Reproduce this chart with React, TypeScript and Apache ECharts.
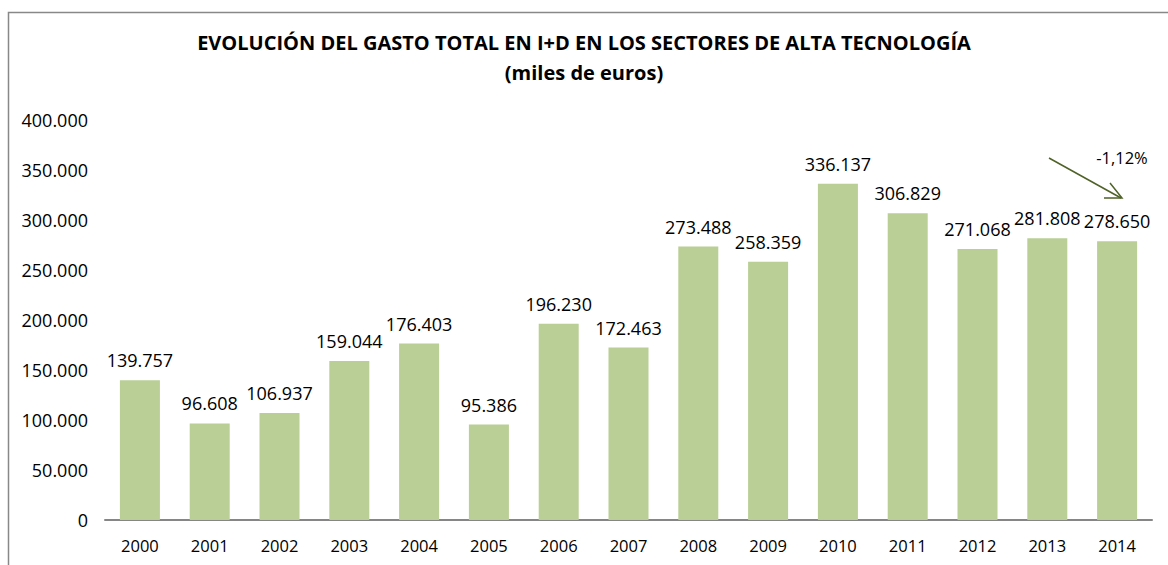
import React, { useEffect, useRef } from "react";
import * as echarts from "echarts";

const years = ["2000","2001","2002","2003","2004","2005","2006","2007","2008","2009","2010","2011","2012","2013","2014"];
const gasto = [139757, 96608, 106937, 159044, 176403, 95386, 196230, 172463, 273488, 258359, 336137, 306829, 271068, 281808, 278650];
const titleLines = ["EVOLUCIÓN DEL GASTO TOTAL EN I+D EN LOS SECTORES DE ALTA TECNOLOGÍA", "(miles de euros)"];
const changeLabel = "-1,12%";

const fmt = (v: number) => String(Math.round(v)).replace(/\B(?=(\d{3})+(?!\d))/g, ".");
const FONT = "'Open Sans', 'Noto Sans', sans-serif";

export default function App() {
  const ref = useRef<HTMLDivElement>(null);
  useEffect(() => {
    if (!ref.current) return;
    const chart = echarts.init(ref.current, null, { renderer: "svg" });
    chart.setOption({
      animation: false,
      backgroundColor: "#ffffff",
      title: {
        text: titleLines.join("\n"),
        left: "center",
        top: 22,
        textStyle: { fontFamily: FONT, fontWeight: "bold", fontSize: 20, color: "#000", lineHeight: 30 },
      },
      grid: { left: 105, right: 16, top: 120, bottom: 45 },
      xAxis: {
        type: "category",
        data: years,
        axisLine: { lineStyle: { color: "#868686", width: 2 } },
        axisTick: { show: false },
        axisLabel: { fontFamily: FONT, fontSize: 16.5, color: "#000", margin: 17 },
      },
      yAxis: {
        type: "value",
        min: 0,
        max: 400000,
        interval: 50000,
        splitLine: { show: false },
        axisLine: { show: false },
        axisTick: { show: false },
        axisLabel: { fontFamily: FONT, fontSize: 18, color: "#000", margin: 17, formatter: (v: number) => fmt(v) },
      },
      series: [
        {
          type: "bar",
          data: gasto,
          barWidth: 40,
          itemStyle: { color: "#b9cf95" },
          label: {
            show: true,
            position: "top",
            distance: 11,
            fontFamily: FONT,
            fontSize: 18,
            color: "#000",
            formatter: (p: any) => fmt(p.value),
          },
        },
      ],
      graphic: [
        { type: "rect", shape: { x: 8.5, y: 12.5, width: 1200, height: 600 }, style: { fill: "none", stroke: "#888", lineWidth: 1.5 }, silent: true },
        { type: "line", shape: { x1: 1049, y1: 158, x2: 1121, y2: 198 }, style: { stroke: "#4f6228", lineWidth: 1.5 } },
        { type: "polyline", shape: { points: [[1110, 183], [1122, 198], [1104, 198]] }, style: { stroke: "#4f6228", lineWidth: 1.5, fill: "none" } },
        { type: "text", x: 1122, y: 157, style: { text: changeLabel, fontFamily: FONT, fontSize: 16.5, fill: "#000", align: "center", verticalAlign: "middle" } },
      ],
    });
    return () => chart.dispose();
  }, []);
  return <div ref={ref} style={{ position: "absolute", left: 0, top: 0, width: 1168, height: 565 }} />;
}
